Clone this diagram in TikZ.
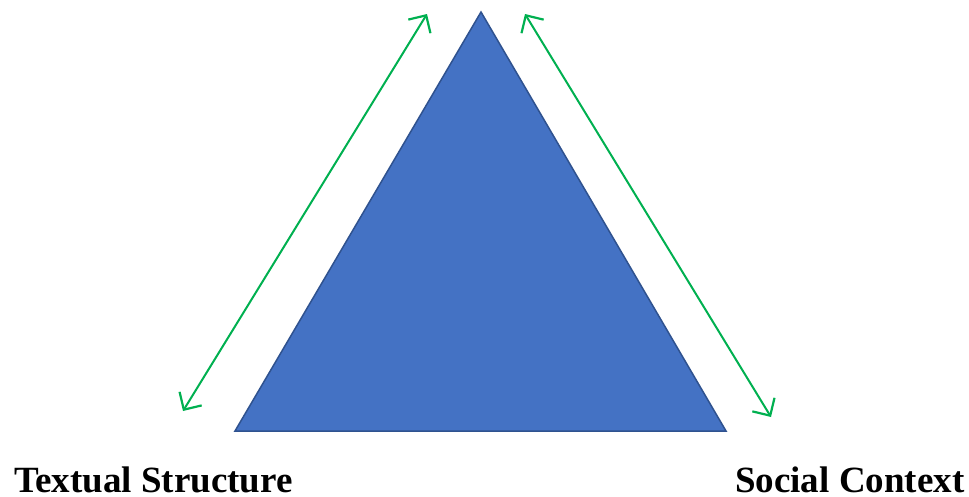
\documentclass[tikz,border=0pt]{standalone}
\usepackage{fontspec}
\setmainfont{Liberation Serif}
\usetikzlibrary{arrows.meta}
\definecolor{triFill}{HTML}{4472C4}
\definecolor{triEdge}{HTML}{2F528F}
\definecolor{arrGreen}{HTML}{00B050}
\tikzset{
  tri/.style={fill=triFill, draw=triEdge, line width=1.5pt, line join=miter},
  relarrow/.style={draw=arrGreen, line width=2pt, {Straight Barb[length=13pt,width=26pt,line width=2.2pt]}-{Straight Barb[length=13pt,width=26pt,line width=2.2pt]}},
  label/.style={font=\bfseries\fontsize{37}{40}\selectfont, inner sep=0pt, anchor=base west}
}
\begin{document}
\begin{tikzpicture}[x=1pt,y=-1pt]
\useasboundingbox (0,0) rectangle (969,496);
\coordinate (top) at (481,12);
\coordinate (bl) at (235,431);
\coordinate (br) at (726,431);
\draw[tri] (top) -- (br) -- (bl) -- cycle;
\coordinate (la) at (183,411);
\coordinate (lb) at (427,14);
\coordinate (ra) at (525,14);
\coordinate (rb) at (771,417);
\draw[relarrow] (la) -- (lb);
\draw[relarrow] (ra) -- (rb);
\node[label] (ts) at (14,492) {Textual Structure};
\node[label] (sc) at (735,492) {Social Context};
\end{tikzpicture}
\end{document}
